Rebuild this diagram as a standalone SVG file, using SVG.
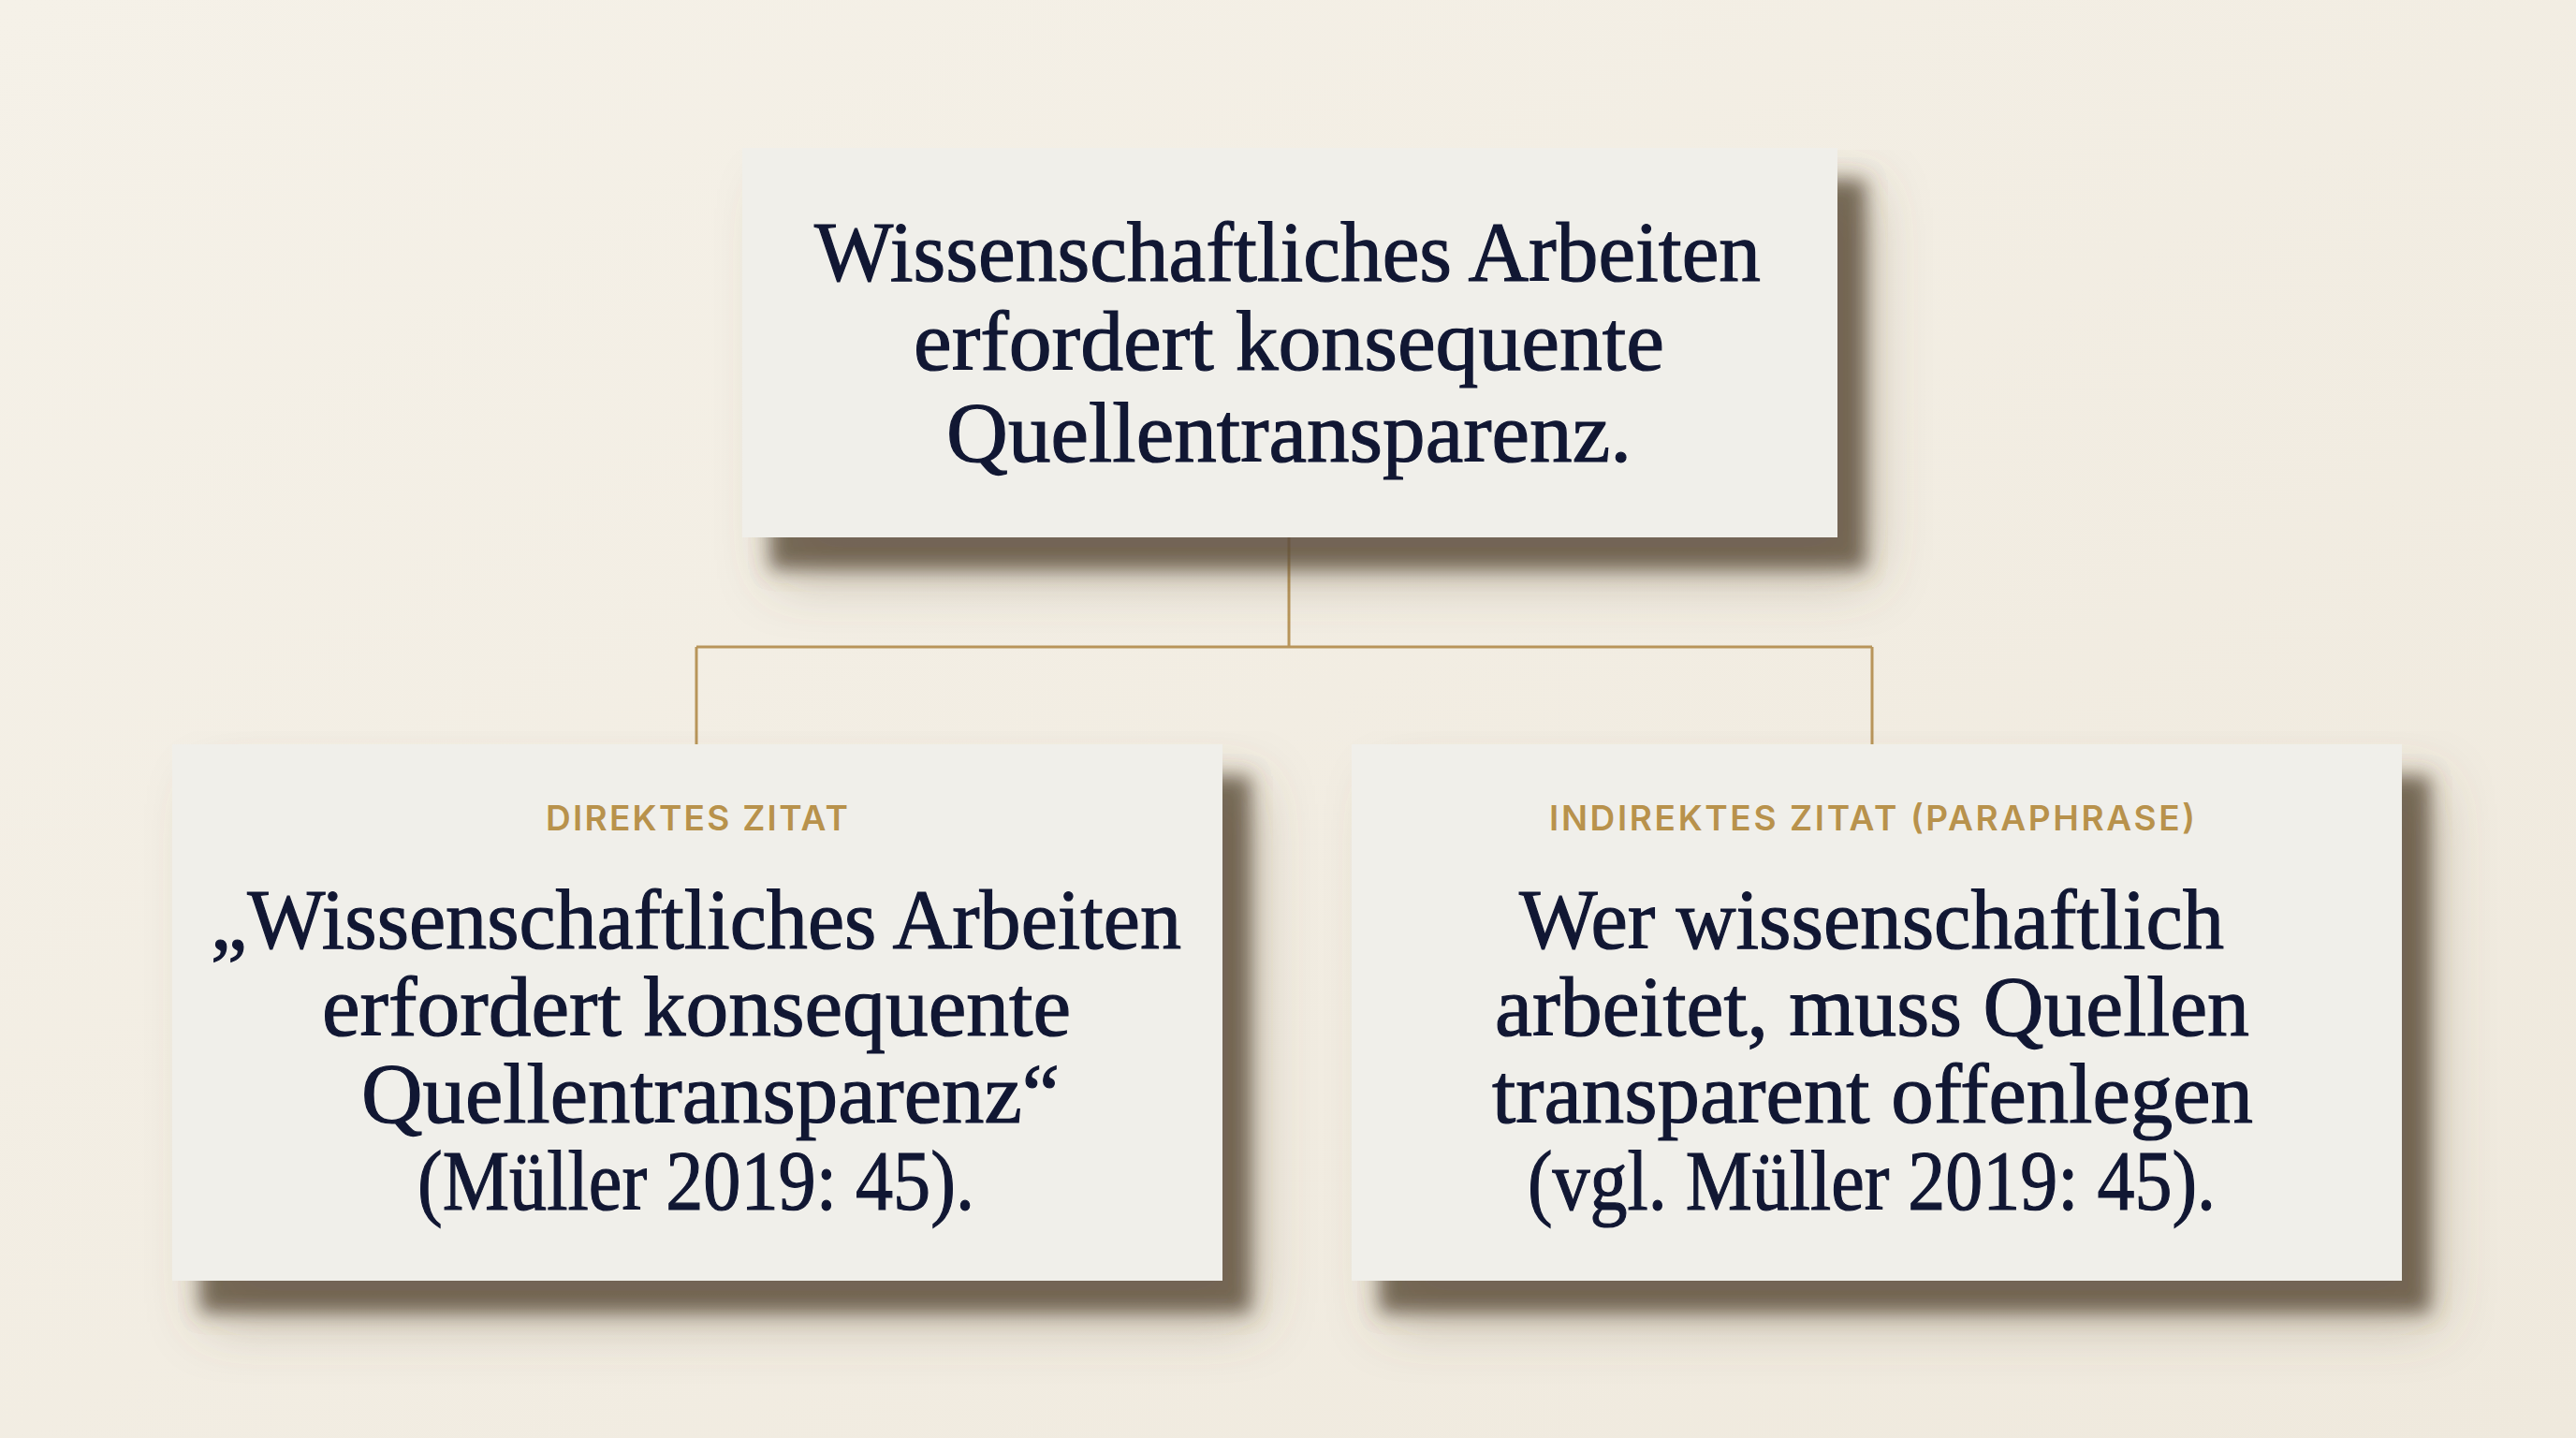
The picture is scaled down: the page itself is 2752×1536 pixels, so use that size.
<svg xmlns="http://www.w3.org/2000/svg" width="2752" height="1536" viewBox="0 0 2752 1536">
  <defs>
    <linearGradient id="bg" x1="0" y1="0" x2="1" y2="1">
      <stop offset="0" stop-color="#f5f1e8"/>
      <stop offset="1" stop-color="#efe9dd"/>
    </linearGradient>
    <filter id="shadow" x="-10%" y="-10%" width="130%" height="140%">
      <feGaussianBlur in="SourceAlpha" stdDeviation="30" result="b1"/>
      <feOffset in="b1" dx="36" dy="44" result="o1"/>
      <feFlood flood-color="#6b5a44" flood-opacity="0.35"/>
      <feComposite in2="o1" operator="in" result="s1"/>
      <feGaussianBlur in="SourceAlpha" stdDeviation="10" result="b2"/>
      <feOffset in="b2" dx="30" dy="34" result="o2"/>
      <feFlood flood-color="#5e503d" flood-opacity="0.8"/>
      <feComposite in2="o2" operator="in" result="s2"/>
      <feMerge>
        <feMergeNode in="s1"/>
        <feMergeNode in="s2"/>
        <feMergeNode in="SourceGraphic"/>
      </feMerge>
    </filter>
    <style>
      .card { fill: #f0efea; }
      .body { font-family: "Liberation Serif", "DejaVu Serif", serif; font-size: 92px; fill: #111733; stroke: #111733; stroke-width: 1.2px; }
      .label { font-family: Inter, "Liberation Sans", sans-serif; font-size: 37px; font-weight: 600; fill: #b8924c; }
      .conn { fill: none; stroke: #b8955a; stroke-width: 3; }
    </style>
  </defs>

  <rect x="0" y="0" width="2752" height="1536" fill="url(#bg)"/>

  <g id="connectors">
    <path class="conn" d="M1377 574 V691 M744 691 H2000 M744 691 V795 M2000 691 V795"/>
  </g>

  <g id="node-main">
    <rect class="card" x="793" y="158" width="1170" height="416" filter="url(#shadow)"/>
    <text class="body" x="870" y="300" textLength="1011" lengthAdjust="spacingAndGlyphs">Wissenschaftliches Arbeiten</text>
    <text class="body" x="976" y="395" textLength="802" lengthAdjust="spacingAndGlyphs">erfordert konsequente</text>
    <text class="body" x="1011" y="493" textLength="732" lengthAdjust="spacingAndGlyphs">Quellentransparenz.</text>
  </g>

  <g id="node-direct">
    <rect class="card" x="184" y="795" width="1122" height="573" filter="url(#shadow)"/>
    <text class="label" x="583" y="887" textLength="323" lengthAdjust="spacing">DIREKTES ZITAT</text>
    <text class="body" x="225" y="1013" textLength="1037" lengthAdjust="spacingAndGlyphs">„Wissenschaftliches Arbeiten</text>
    <text class="body" x="344" y="1106" textLength="800" lengthAdjust="spacingAndGlyphs">erfordert konsequente</text>
    <text class="body" x="386" y="1199" textLength="746" lengthAdjust="spacingAndGlyphs">Quellentransparenz“</text>
    <text class="body" x="446" y="1292" textLength="595" lengthAdjust="spacingAndGlyphs">(Müller 2019: 45).</text>
  </g>

  <g id="node-indirect">
    <rect class="card" x="1444" y="795" width="1122" height="573" filter="url(#shadow)"/>
    <text class="label" x="1655" y="887" textLength="690" lengthAdjust="spacing">INDIREKTES ZITAT (PARAPHRASE)</text>
    <text class="body" x="1623" y="1013" textLength="753" lengthAdjust="spacingAndGlyphs">Wer wissenschaftlich</text>
    <text class="body" x="1597" y="1106" textLength="806" lengthAdjust="spacingAndGlyphs">arbeitet, muss Quellen</text>
    <text class="body" x="1594" y="1199" textLength="813" lengthAdjust="spacingAndGlyphs">transparent offenlegen</text>
    <text class="body" x="1632" y="1292" textLength="735" lengthAdjust="spacingAndGlyphs">(vgl. Müller 2019: 45).</text>
  </g>
</svg>
